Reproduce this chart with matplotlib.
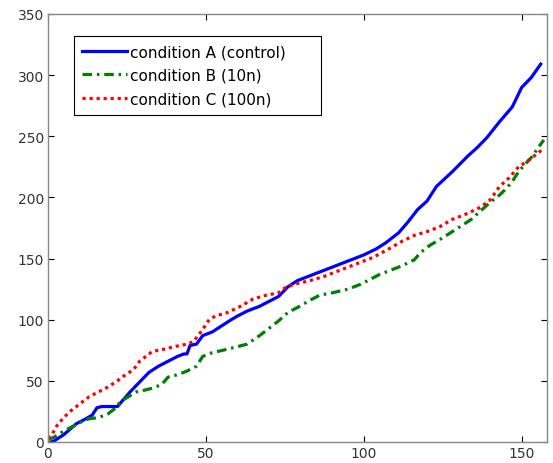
import numpy as np, matplotlib
matplotlib.use('Agg')
import matplotlib.pyplot as plt
from matplotlib import rcParams

rcParams['font.family'] = ['DejaVu Sans']
rcParams['font.size'] = 10

# condition A (control)
a_x = [1, 2, 5, 9, 12, 14, 15.5, 17, 22, 24, 26, 29, 32, 35, 38, 41, 43, 44, 45, 47,
       49, 52, 55, 58, 60, 63, 67, 70, 73, 76, 79, 83, 87, 91, 95, 100, 104, 107, 111,
       114, 117, 120, 123, 128, 133, 136, 139, 143, 147, 150, 153, 156]
a_y = [0, 1, 6, 15, 19, 22, 28, 29, 29, 35, 41, 49, 57, 62, 66, 70, 72, 72, 79, 80,
       87, 90, 95, 100, 103, 107, 111, 115, 119, 127, 132, 136, 140, 144, 148, 153, 158,
       163, 171, 180, 190, 197, 209, 221, 234, 241, 249, 262, 274, 290, 298, 309]

# condition B (10n)
b_x = [0, 2, 5, 8, 11, 13, 16, 19, 21, 23, 26, 28, 30, 33, 36, 38, 41, 44, 47, 49,
       52, 57, 60, 63, 67, 70, 73, 76, 79, 83, 86, 90, 95, 99, 102, 105, 108, 112, 116,
       118, 121, 125, 128, 131, 134, 137, 140, 143, 145, 147, 149, 151, 153.5, 155, 157]
b_y = [2, 4, 9, 13, 17, 19, 20, 23, 27, 33, 38, 41, 42, 44, 47, 53, 55, 58, 62, 70,
       73, 76, 78, 80, 87, 93, 99, 106, 110, 116, 120, 122, 125, 129, 133, 137, 140, 144,
       149, 155, 161, 167, 172, 177, 182, 189, 196, 202, 207, 213, 221, 227, 234, 240, 247]

# condition C (100n)
c_x = [0, 1, 3, 5, 7, 9, 11, 13, 16, 19, 22, 24, 27, 29, 31, 33, 37, 40, 44, 46,
       49, 51, 53, 57, 61, 65, 69, 73, 75, 78, 83, 87, 92, 98, 103, 108, 112, 116, 120,
       124, 128, 132, 137, 140, 143, 146, 149, 152, 155, 157]
c_y = [3, 5, 14, 20, 25, 29, 33, 37, 41, 45, 50, 54, 59, 66, 70, 74, 76, 78, 80, 82,
       92, 100, 103, 106, 111, 117, 120, 122, 126, 129, 132, 135, 140, 146, 151, 158, 164,
       169, 172, 176, 182, 186, 192, 198, 209, 216, 225, 230, 236, 240]

labels = ['condition A (control)', 'condition B (10n)', 'condition C (100n)']

fig = plt.figure(figsize=(5.53, 4.64), dpi=100)
ax = fig.add_axes([48/553, 21/464, 499/553, 428/464])

ax.plot(a_x, a_y, color='#0000ff', lw=2.3, label=labels[0])
ax.plot(b_x, b_y, color='#008000', lw=2.3, dashes=(3, 1.5, 0.8, 1.5), label=labels[1])
ax.plot(c_x, c_y, color='#ff0000', lw=2.3, dashes=(1, 1.2), label=labels[2])

ax.set_xlim(0, 158)
ax.set_ylim(0, 350)
ax.set_xticks([0, 50, 100, 150])
ax.set_yticks(np.arange(0, 351, 50))
ax.tick_params(direction='in', length=4, top=True, right=True, color='black',
               labelcolor='#333333', labelsize=10, pad=3)
for s in ax.spines.values():
    s.set_color('#888888')
    s.set_linewidth(1.0)

# legend box spans roughly 74..321 px wide, 37..118 px tall
leg = ax.legend(loc='upper left', bbox_to_anchor=(0.052, 0.7593, 0.495, 0.1893),
                mode='expand', borderaxespad=0,
                fancybox=False, framealpha=1, edgecolor='black', handlelength=2.9,
                handletextpad=0.25, labelspacing=0.55, borderpad=0.55, fontsize=11)
leg.get_frame().set_linewidth(0.8)

plt.savefig('out.png', dpi=100)
